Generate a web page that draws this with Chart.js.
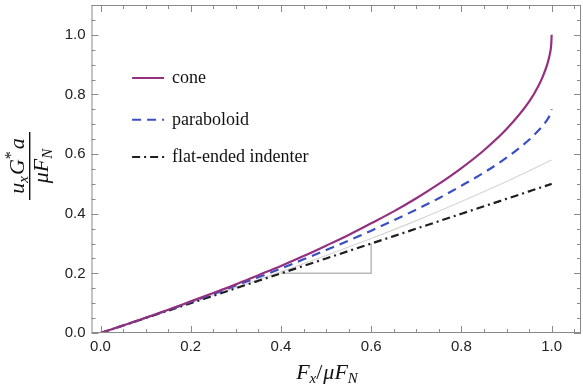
<!DOCTYPE html>
<html>
<head>
<meta charset="utf-8">
<script src="https://cdn.jsdelivr.net/npm/chart.js@4.4.1/dist/chart.umd.min.js"></script>
<style>
  html, body { margin: 0; padding: 0; background: #fff; }
  #wrap { width: 583px; height: 386px; position: relative; }
</style>
</head>
<body>
<div id="wrap"><canvas id="c"></canvas></div>
<script>
// values
const forceRatio = [0, 0.05, 0.1, 0.15, 0.2, 0.25, 0.3, 0.35, 0.4, 0.45, 0.5, 0.55, 0.6, 0.65, 0.7, 0.75, 0.8, 0.85, 0.9, 0.95, 0.97, 0.98, 0.99, 0.995, 0.999, 1.0];
const coneValues = [0, 0.025, 0.051, 0.078, 0.106, 0.134, 0.163, 0.194, 0.225, 0.258, 0.293, 0.329, 0.368, 0.408, 0.452, 0.5, 0.553, 0.613, 0.684, 0.776, 0.827, 0.859, 0.9, 0.929, 0.968, 1.0];
const paraboloidValues = [0, 0.025, 0.051, 0.077, 0.104, 0.131, 0.159, 0.187, 0.216, 0.247, 0.278, 0.31, 0.343, 0.378, 0.414, 0.452, 0.494, 0.538, 0.588, 0.648, 0.678, 0.695, 0.715, 0.728, 0.742, 0.75];
const flatValues = [0, 0.025, 0.05, 0.075, 0.1, 0.125, 0.15, 0.175, 0.2, 0.225, 0.25, 0.275, 0.3, 0.325, 0.35, 0.375, 0.4, 0.425, 0.45, 0.475, 0.485, 0.49, 0.495, 0.4975, 0.4995, 0.5];

// thin grey reference curve
const greyX = [0, 0.1, 0.2, 0.3, 0.4, 0.5, 0.6, 0.7, 0.8, 0.9, 1.0];
const greyY = [0, 0.05, 0.101, 0.152, 0.205, 0.26, 0.317, 0.377, 0.441, 0.508, 0.58];

// slope triangle
const triangleX = [0.4, 0.6, 0.6];
const triangleY = [0.2, 0.2, 0.3];

const seriesNames = ['cone', 'paraboloid', 'flat-ended indenter'];
const legendRows = [0.855, 0.715, 0.59];
const xTicks = [0, 0.2, 0.4, 0.6, 0.8, 1.0];
const yTicks = [0, 0.2, 0.4, 0.6, 0.8, 1.0];
const minorStep = 0.05;

const pts = (xs, ys) => xs.map((x, i) => ({ x: x, y: ys[i] }));

const styles = [
    { color: '#93307f', dash: [] },
    { color: '#3b4fc4', dash: [9, 6] },
    { color: '#1e1e1e', dash: [8, 4, 2, 4] }
];

// frame with inward ticks on all four sides (Mathematica style)
const framePlugin = {
    id: 'frameTicks',
    afterDraw(chart) {
        const ctx = chart.ctx;
        const a = chart.chartArea;
        const xs = chart.scales.x, ys = chart.scales.y;
        ctx.save();
        ctx.strokeStyle = '#8a8a8a';
        ctx.lineWidth = 1;
        ctx.strokeRect(a.left + 0.5, a.top + 0.5, a.right - a.left - 1, a.bottom - a.top - 1);
        ctx.beginPath();
        for (let v = 0; v <= xs.max + 1e-9; v += minorStep) {
            const major = xTicks.some(t => Math.abs(t - v) < 1e-6);
            const len = major ? 7 : 4;
            const px = Math.round(xs.getPixelForValue(v)) + 0.5;
            ctx.moveTo(px, a.bottom); ctx.lineTo(px, a.bottom - len);
            ctx.moveTo(px, a.top); ctx.lineTo(px, a.top + len);
        }
        for (let v = 0; v <= ys.max + 1e-9; v += minorStep) {
            const major = yTicks.some(t => Math.abs(t - v) < 1e-6);
            const len = major ? 7 : 4;
            const py = Math.round(ys.getPixelForValue(v)) + 0.5;
            ctx.moveTo(a.left, py); ctx.lineTo(a.left + len, py);
            ctx.moveTo(a.right, py); ctx.lineTo(a.right - len, py);
        }
        ctx.stroke();

        // legend inside the plot
        const lx = xs.getPixelForValue(0.07), tx = lx + 40;
        seriesNames.forEach((name, i) => {
            const ry = ys.getPixelForValue(legendRows[i]);
            ctx.beginPath();
            ctx.strokeStyle = styles[i].color;
            ctx.lineWidth = 2;
            ctx.setLineDash(styles[i].dash);
            ctx.moveTo(lx, ry); ctx.lineTo(lx + 32, ry);
            ctx.stroke();
            ctx.setLineDash([]);
            ctx.fillStyle = '#111';
            ctx.font = '18px "Liberation Serif", "DejaVu Serif", serif';
            ctx.textBaseline = 'middle';
            ctx.textAlign = 'left';
            ctx.fillText(name, tx, ry);
        });

        // axis titles
        const drawRun = (parts, x, y) => {
            let cx = x;
            parts.forEach(p => {
                ctx.font = p.font;
                ctx.fillText(p.t, cx, y + (p.dy || 0));
                cx += ctx.measureText(p.t).width + (p.gap || 0);
            });
        };
        const runWidth = parts => parts.reduce((w, p) => { ctx.font = p.font; return w + ctx.measureText(p.t).width + (p.gap || 0); }, 0);
        const it = sz => 'italic ' + sz + 'px "Liberation Serif", "DejaVu Serif", serif';
        const up = sz => sz + 'px "Liberation Serif", "DejaVu Serif", serif';

        ctx.fillStyle = '#111';
        ctx.textBaseline = 'alphabetic';
        ctx.textAlign = 'left';
        const xTitle = [
            { t: 'F', font: it(22) }, { t: 'x', font: it(15), dy: 4 },
            { t: '/', font: up(22), gap: 1 }, { t: 'μF', font: it(22) }, { t: 'N', font: it(15), dy: 4 }
        ];
        drawRun(xTitle, 327 - runWidth(xTitle) / 2, 379);

        ctx.save();
        ctx.translate(30, 166);
        ctx.rotate(-Math.PI / 2);
        const num = [
            { t: 'u', font: it(22) }, { t: 'x', font: it(15), dy: 4, gap: 1 },
            { t: 'G', font: it(22) }, { t: '*', font: up(16), dy: -8, gap: 2 }, { t: 'a', font: it(22) }
        ];
        const den = [{ t: 'μF', font: it(22) }, { t: 'N', font: it(15), dy: 4 }];
        drawRun(num, -runWidth(num) / 2, -6);
        ctx.fillRect(-34, -1, 68, 1.4);
        drawRun(den, -runWidth(den) / 2, 18);
        ctx.restore();
        ctx.restore();
    }
};

const lineSet = (data, style, order) => ({
    data: data,
    borderColor: style.color,
    borderDash: style.dash,
    borderWidth: 2.2,
    pointRadius: 0,
    fill: false,
    cubicInterpolationMode: 'monotone',
    order: order
});

new Chart(document.getElementById('c').getContext('2d'), {
    type: 'line',
    data: {
        datasets: [
            { data: pts(greyX, greyY), borderColor: '#d6d6d6', borderWidth: 1.2, pointRadius: 0, fill: false, cubicInterpolationMode: 'monotone', order: 5 },
            { data: pts(triangleX, triangleY), borderColor: '#b9b9b9', borderWidth: 1.5, pointRadius: 0, fill: false, tension: 0, order: 6 },
            lineSet(pts(forceRatio, flatValues), styles[2], 3),
            lineSet(pts(forceRatio, paraboloidValues), styles[1], 2),
            lineSet(pts(forceRatio, coneValues), styles[0], 1)
        ]
    },
    options: {
        responsive: true,
        maintainAspectRatio: false,
        animation: false,
        layout: { padding: { top: 5, right: 2, left: 0, bottom: 0 } },
        plugins: { legend: { display: false }, tooltip: { enabled: false } },
        scales: {
            x: {
                type: 'linear',
                min: -0.02,
                max: 1.065,
                grid: { display: false, drawTicks: false },
                border: { display: false },
                afterBuildTicks: s => { s.ticks = xTicks.map(v => ({ value: v })); },
                afterFit: s => { s.height = 53; s.paddingLeft = 0; s.paddingRight = 0; },
                ticks: {
                    padding: 5,
                    color: '#222',
                    font: { family: '"Liberation Sans", Arial, sans-serif', size: 15 },
                    callback: v => v.toFixed(1)
                }
            },
            y: {
                min: 0,
                max: 1.1,
                grid: { display: false, drawTicks: false },
                border: { display: false },
                afterBuildTicks: s => { s.ticks = yTicks.map(v => ({ value: v })); },
                afterFit: s => { s.width = 91.5; s.paddingTop = 0; s.paddingBottom = 0; },
                ticks: {
                    padding: 6,
                    color: '#222',
                    font: { family: '"Liberation Sans", Arial, sans-serif', size: 15 },
                    callback: v => v.toFixed(1)
                }
            }
        }
    },
    plugins: [framePlugin]
});
</script>
</body>
</html>
